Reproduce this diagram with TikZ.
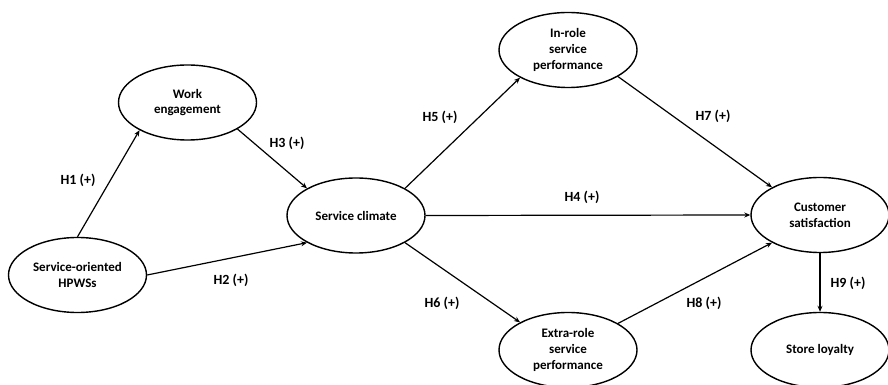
\documentclass[tikz,border=0pt]{standalone}
\usepackage{fontspec}
\setmainfont{Carlito}
\usetikzlibrary{shapes.geometric,arrows.meta}
\begin{document}
\begin{tikzpicture}[x=1pt,y=1pt,
  construct/.style={ellipse,draw,line width=1.4pt,minimum width=138pt,minimum height=75pt,inner sep=0pt,align=center,font=\fontsize{13}{15.8}\selectfont\bfseries},
  hyp/.style={font=\fontsize{14}{16}\selectfont\bfseries},
  link/.style={line width=1.2pt,-{Stealth[length=6pt,width=5pt]}}]
\useasboundingbox (0,0) rectangle (888,385);
\node[construct] (WE) at (187.5,282.5) {Work\\engagement};
\node[construct] (HP) at (77.5,110) {Service-oriented\\HPWSs};
\node[construct] (SC) at (356,169.5) {Service climate};
\node[construct] (IR) at (568,335) {In-role\\service\\performance};
\node[construct] (CS) at (820,170) {Customer\\satisfaction};
\node[construct] (ER) at (568,35) {Extra-role\\service\\performance};
\node[construct] (SL) at (820,35) {Store loyalty};
\draw[link] (HP.north) -- (WE.210);
\draw[link] (HP.east) -- (SC.209);
\draw[link] (WE.-28) -- (SC.151);
\draw[link] (SC.29) -- (IR.210);
\draw[link] (SC.-29) -- (ER.150);
\draw[link] (SC.east) -- (CS.west);
\draw[link] (IR.-28) -- (CS.150);
\draw[link] (ER.28) -- (CS.210);
\draw[link] (CS.south) -- (SL.north);
\node[hyp] (h1) at (78,205) {H1 (+)};
\node[hyp] (h2) at (231,105) {H2 (+)};
\node[hyp] (h3) at (287,242) {H3 (+)};
\node[hyp] (h5) at (440,268) {H5 (+)};
\node[hyp] (h6) at (442,82) {H6 (+)};
\node[hyp] (h4) at (582,188) {H4 (+)};
\node[hyp] (h7) at (713,269) {H7 (+)};
\node[hyp] (h8) at (704,82) {H8 (+)};
\node[hyp] (h9) at (848,102) {H9 (+)};
\end{tikzpicture}
\end{document}
